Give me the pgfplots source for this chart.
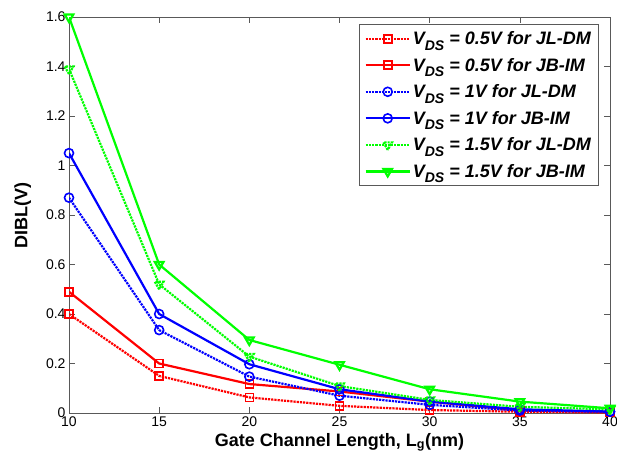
\documentclass[border=0pt]{standalone}
\usepackage{fontspec}
\setmainfont{Liberation Sans}
\usepackage{pgfplots}
\pgfplotsset{compat=1.18}
\definecolor{mred}{RGB}{255,0,0}
\definecolor{mblue}{RGB}{0,0,255}
\definecolor{mgreen}{RGB}{0,255,0}
\newcommand{\VDS}{V\raisebox{-0.6ex}{\fontsize{14}{14}\selectfont DS}}
\begin{document}
\begin{tikzpicture}
\path[use as bounding box] (-69pt,-46pt) rectangle (548pt,413pt);
\begin{axis}[
  at={(0pt,0pt)}, anchor=south west,
  scale only axis, width=541pt, height=396pt,
  xmin=10, xmax=40, ymin=0, ymax=1.6,
  xtick={10,15,...,40},
  ytick={0,0.2,...,1.6},
  yticklabel style={/pgf/number format/fixed},
  /pgf/number format/assume math mode=true,
  tick align=inside,
  major tick length=6pt,
  tick style={gray!70!black, line width=0.6pt},
  axis line style={gray!70!black, line width=0.8pt},
  ticklabel style={font=\fontsize{14}{16}\selectfont},
  xlabel={\textbf{Gate Channel Length, L\textsubscript{g}(nm)}},
  ylabel={\textbf{DIBL(V)}},
  label style={font=\fontsize{18}{20}\selectfont},
  xlabel style={yshift=0pt},
  ylabel style={yshift=8pt},
  legend style={at={(0.978,0.982)}, anchor=north east, draw=gray!70!black, line width=0.6pt,
    font=\fontsize{18}{20}\selectfont\bfseries\itshape, row sep=8pt, inner xsep=5pt, inner ysep=5pt},
  legend cell align=left,
  legend image code/.code={\draw[#1] (0pt,0pt) -- (22pt,0pt) plot coordinates {(22pt,0pt)} -- (44pt,0pt);},
  every axis plot/.append style={line width=2.2pt, mark options={solid, line width=1.6pt}},
]
\addplot[mred, densely dotted, mark=square, mark size=4pt] coordinates {(10,0.40) (15,0.15) (20,0.063) (25,0.029) (30,0.012) (35,0.005) (40,0.002)};
\addlegendentry{\VDS{} = 0.5V for JL-DM}
\addplot[mred, solid, mark=square, mark size=4pt] coordinates {(10,0.49) (15,0.20) (20,0.117) (25,0.087) (30,0.046) (35,0.010) (40,0.004)};
\addlegendentry{\VDS{} = 0.5V for JB-IM}
\addplot[mblue, densely dotted, mark=o, mark size=4.5pt] coordinates {(10,0.87) (15,0.335) (20,0.147) (25,0.070) (30,0.033) (35,0.010) (40,0.005)};
\addlegendentry{\VDS{} = 1V for JL-DM}
\addplot[mblue, solid, mark=o, mark size=4.5pt] coordinates {(10,1.05) (15,0.40) (20,0.197) (25,0.096) (30,0.046) (35,0.015) (40,0.006)};
\addlegendentry{\VDS{} = 1V for JB-IM}
\addplot[mgreen, densely dotted, mark=triangle, mark size=5pt, mark options={rotate=180}] coordinates {(10,1.39) (15,0.52) (20,0.228) (25,0.109) (30,0.053) (35,0.025) (40,0.015)};
\addlegendentry{\VDS{} = 1.5V for JL-DM}
\addplot[mgreen, solid, mark=triangle, mark size=5pt, mark options={rotate=180}] coordinates {(10,1.60) (15,0.60) (20,0.295) (25,0.195) (30,0.096) (35,0.046) (40,0.019)};
\addlegendentry{\VDS{} = 1.5V for JB-IM}
\end{axis}
\end{tikzpicture}
\end{document}
